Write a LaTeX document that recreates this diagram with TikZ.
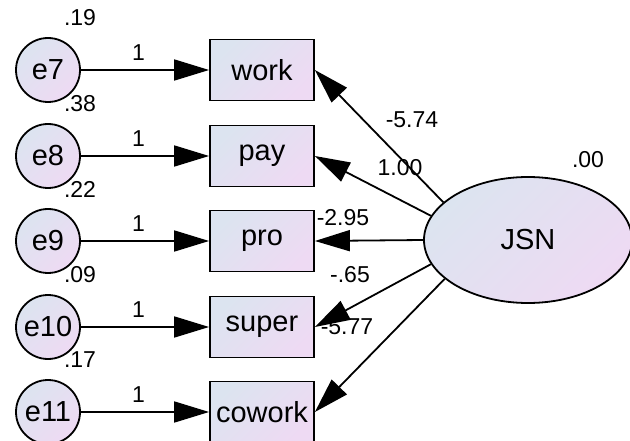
\documentclass[tikz,border=0pt]{standalone}
\usepackage{fontspec}
\setmainfont{Liberation Sans}
\usetikzlibrary{arrows.meta,shapes.geometric}
\definecolor{shadeblue}{RGB}{220, 228, 240}
\definecolor{shadepink}{RGB}{238, 218, 243}

\tikzset{
  fillshade/.style={left color=shadeblue, right color=shadepink, shading angle=45},
  errnode/.style={circle, draw, line width=1.8pt, minimum size=64pt, inner sep=0pt, fillshade, font=\fontsize{29}{34}\selectfont},
  obsbox/.style={rectangle, draw, line width=1.8pt, minimum width=104pt, minimum height=61pt, inner sep=0pt, fillshade, font=\fontsize{29}{34}\selectfont},
  latent/.style={ellipse, draw, line width=1.8pt, minimum width=208pt, minimum height=126pt, inner sep=0pt, fillshade, font=\fontsize{29}{34}\selectfont},
  numlab/.style={inner sep=0pt, font=\fontsize{23}{27}\selectfont},
  sem/.style={line width=1.8pt, -{Triangle[length=35pt,width=21pt]}}
}

\begin{document}
\begin{tikzpicture}[x=1pt,y=-1pt]
\useasboundingbox (0,0) rectangle (630,441);
% Latent factor
\node[latent] (jsn) at (528,240) {JSN};
\node[numlab] (varjsn) at (588,160) {.00};
% Errors and observed items
\foreach \e/\obs/\var/\y in {e7/work/.19/70, e8/pay/.38/156, e9/pro/.22/241, e10/super/.09/327, e11/cowork/.17/412} {
    \node[errnode] (\e) at (48,\y) {\e};
    \node[obsbox] (\obs) at (262,\y) {\obs};
    \node[numlab] (var\e) at (80,\y-52) {\var};
    \draw[sem] (\e) -- node[numlab, above=9pt, pos=0.45] {1} (\obs);
}
% Loadings
\foreach \obs/\ang/\load/\lx/\ly in {work/156/-5.74/412/120, pay/166/1.00/400/168, pro/180/-2.95/343/218, super/194/-.65/350/275, cowork/205/-5.77/347/327} {
    \draw[sem] (jsn.\ang) -- (\obs.east);
    \node[numlab] (load\obs) at (\lx,\ly) {\load};
}
\end{tikzpicture}
\end{document}
